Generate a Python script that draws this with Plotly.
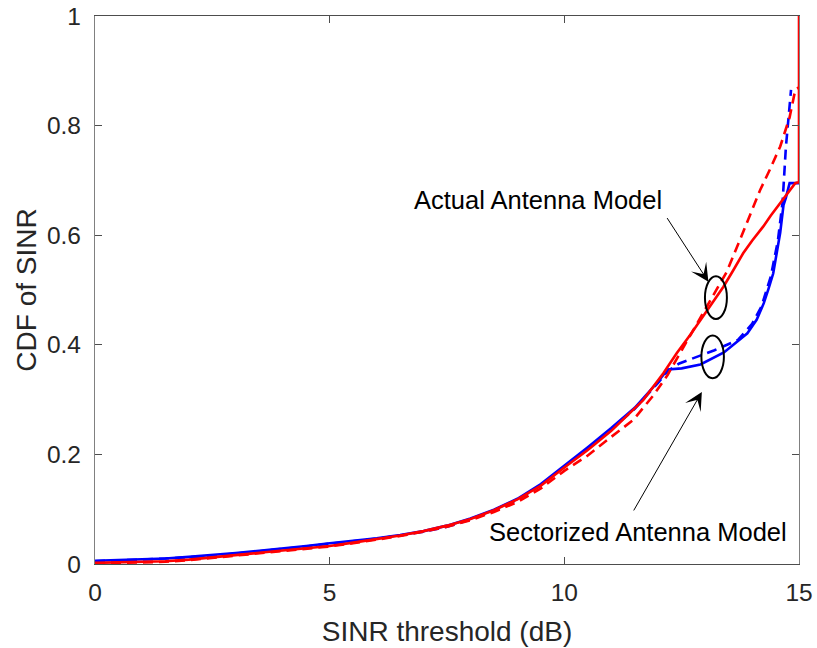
import plotly.graph_objects as go

# SINR thresholds (dB) and CDF values for each curve
sect_sim_x = [0, 0.5, 1, 1.5, 2, 2.5, 3, 3.5, 4, 4.5, 5, 5.5, 6, 6.5, 7, 7.5, 8, 8.5,
              9, 9.5, 10, 10.5, 11, 11.5, 12, 12.2, 12.5, 12.9, 13.4, 13.9, 14.1,
              14.25, 14.35, 14.45, 14.6, 14.67, 14.72, 14.8, 15.0]
sect_sim_y = [0.006, 0.007, 0.008, 0.010, 0.013, 0.016, 0.020, 0.024, 0.028, 0.033,
              0.038, 0.042, 0.047, 0.053, 0.060, 0.070, 0.083, 0.099, 0.119, 0.146,
              0.179, 0.213, 0.248, 0.285, 0.333, 0.355, 0.357, 0.364, 0.386, 0.421,
              0.446, 0.476, 0.502, 0.530, 0.605, 0.655, 0.668, 0.695, 0.695]

sect_ana_x = [0, 0.5, 1, 1.5, 2, 2.5, 3, 3.5, 4, 4.5, 5, 5.5, 6, 6.5, 7, 7.5, 8, 8.5,
              9, 9.5, 10, 10.5, 11, 11.5, 12, 12.2, 12.45, 13.2, 13.7, 14.0, 14.2,
              14.4, 14.55, 14.65, 14.72, 14.78, 14.83]
sect_ana_y = [0.005, 0.006, 0.008, 0.010, 0.012, 0.015, 0.019, 0.023, 0.027, 0.032,
              0.037, 0.041, 0.046, 0.052, 0.059, 0.068, 0.081, 0.097, 0.117, 0.144,
              0.177, 0.211, 0.246, 0.283, 0.331, 0.352, 0.366, 0.390, 0.409, 0.438,
              0.470, 0.525, 0.590, 0.660, 0.760, 0.820, 0.865]

act_sim_x = [0, 0.5, 1, 1.5, 2, 2.5, 3, 3.5, 4, 4.5, 5, 5.5, 6, 6.5, 7, 7.5, 8, 8.5,
             9, 9.5, 10, 10.5, 11, 11.68, 12.11, 12.39, 12.7, 13.0, 13.2, 13.39, 13.6,
             13.81, 14.0, 14.24, 14.4, 14.6, 14.75, 14.92, 15.0, 15.0]
act_sim_y = [0.002, 0.003, 0.004, 0.005, 0.008, 0.012, 0.016, 0.020, 0.025, 0.029,
             0.033, 0.039, 0.045, 0.052, 0.060, 0.070, 0.082, 0.098, 0.118, 0.143,
             0.176, 0.208, 0.243, 0.299, 0.348, 0.384, 0.420, 0.457, 0.482, 0.506,
             0.536, 0.567, 0.590, 0.616, 0.636, 0.658, 0.676, 0.695, 0.697, 1.0]

act_ana_x = [0, 0.5, 1, 1.5, 2, 2.5, 3, 3.5, 4, 4.5, 5, 5.5, 6, 6.5, 7, 7.5, 8, 8.5,
             9, 9.5, 10, 10.5, 11, 11.47, 11.9, 12.2, 12.5, 13.0, 13.46, 13.74, 14.17,
             14.38, 14.6, 14.8, 14.92, 15.0]
act_ana_y = [0.001, 0.002, 0.003, 0.004, 0.007, 0.011, 0.015, 0.019, 0.024, 0.028,
             0.032, 0.038, 0.044, 0.051, 0.059, 0.068, 0.080, 0.095, 0.113, 0.138,
             0.170, 0.198, 0.232, 0.263, 0.308, 0.345, 0.390, 0.465, 0.533, 0.591,
             0.682, 0.720, 0.762, 0.815, 0.865, 0.870]

x_ticks = [0, 5, 10, 15]
y_ticks = [0, 0.2, 0.4, 0.6, 0.8, 1]

FONT = "Liberation Sans, Arial, Helvetica, sans-serif"
TXT = "#262626"
LW = 2.6

fig = go.Figure()
fig.add_trace(go.Scatter(x=sect_ana_x, y=sect_ana_y, mode="lines",
                         line=dict(color="#0000ff", width=LW, dash="10px,6px")))
fig.add_trace(go.Scatter(x=sect_sim_x, y=sect_sim_y, mode="lines",
                         line=dict(color="#0000ff", width=LW)))
fig.add_trace(go.Scatter(x=act_ana_x, y=act_ana_y, mode="lines",
                         line=dict(color="#ff0000", width=LW, dash="10px,6px")))
fig.add_trace(go.Scatter(x=act_sim_x, y=act_sim_y, mode="lines",
                         line=dict(color="#ff0000", width=LW)))

# ellipses marking the two curve groups
fig.add_shape(type="circle", xref="x", yref="y", x0=12.996, x1=13.464, y0=0.447, y1=0.525,
              line=dict(color="black", width=2))
fig.add_shape(type="circle", xref="x", yref="y", x0=12.92, x1=13.40, y0=0.339, y1=0.417,
              line=dict(color="black", width=2))

# labels with arrows
fig.add_annotation(x=13.07, y=0.515, ax=12.17, ay=0.634, xref="x", yref="y",
                   axref="x", ayref="y", text="", showarrow=True,
                   arrowhead=3, arrowsize=3, arrowwidth=1, arrowcolor="black")
fig.add_annotation(x=12.93, y=0.314, ax=11.46, ay=0.095, xref="x", yref="y",
                   axref="x", ayref="y", text="", showarrow=True,
                   arrowhead=3, arrowsize=3, arrowwidth=1, arrowcolor="black")
fig.add_annotation(x=9.43, y=0.664, xref="x", yref="y", text="Actual Antenna Model",
                   showarrow=False, font=dict(family=FONT, size=25.5, color="black"))
fig.add_annotation(x=11.57, y=0.059, xref="x", yref="y", text="Sectorized Antenna Model",
                   showarrow=False, font=dict(family=FONT, size=25.5, color="black"))

fig.update_layout(
    width=817, height=648,
    margin=dict(l=95, r=18, t=16, b=84, autoexpand=False),
    paper_bgcolor="white", plot_bgcolor="white",
    showlegend=False,
    font=dict(family=FONT, color=TXT),
)
fig.update_xaxes(
    range=[0, 15], tickvals=x_ticks, ticktext=[str(v) for v in x_ticks],
    automargin=False,
    showgrid=False, zeroline=False, showline=True, linecolor="#4d4d4d", linewidth=1.2,
    mirror="ticks", ticks="inside", ticklen=7, tickcolor="#4d4d4d",
    tickfont=dict(size=24.5, color=TXT), ticklabelstandoff=6,
    title=dict(text="SINR threshold (dB)", font=dict(size=28, color=TXT), standoff=16),
)
fig.update_yaxes(
    range=[0, 1], tickvals=y_ticks, ticktext=["0", "0.2", "0.4", "0.6", "0.8", "1"],
    automargin=False,
    showgrid=False, zeroline=False, showline=True, linecolor="#808080", linewidth=1.2,
    mirror="ticks", ticks="inside", ticklen=7, tickcolor="#4d4d4d",
    tickfont=dict(size=24.5, color=TXT), ticklabelstandoff=8,
    title=dict(text="CDF of SINR", font=dict(size=28, color=TXT), standoff=2),
)

fig.write_html("out.html")
